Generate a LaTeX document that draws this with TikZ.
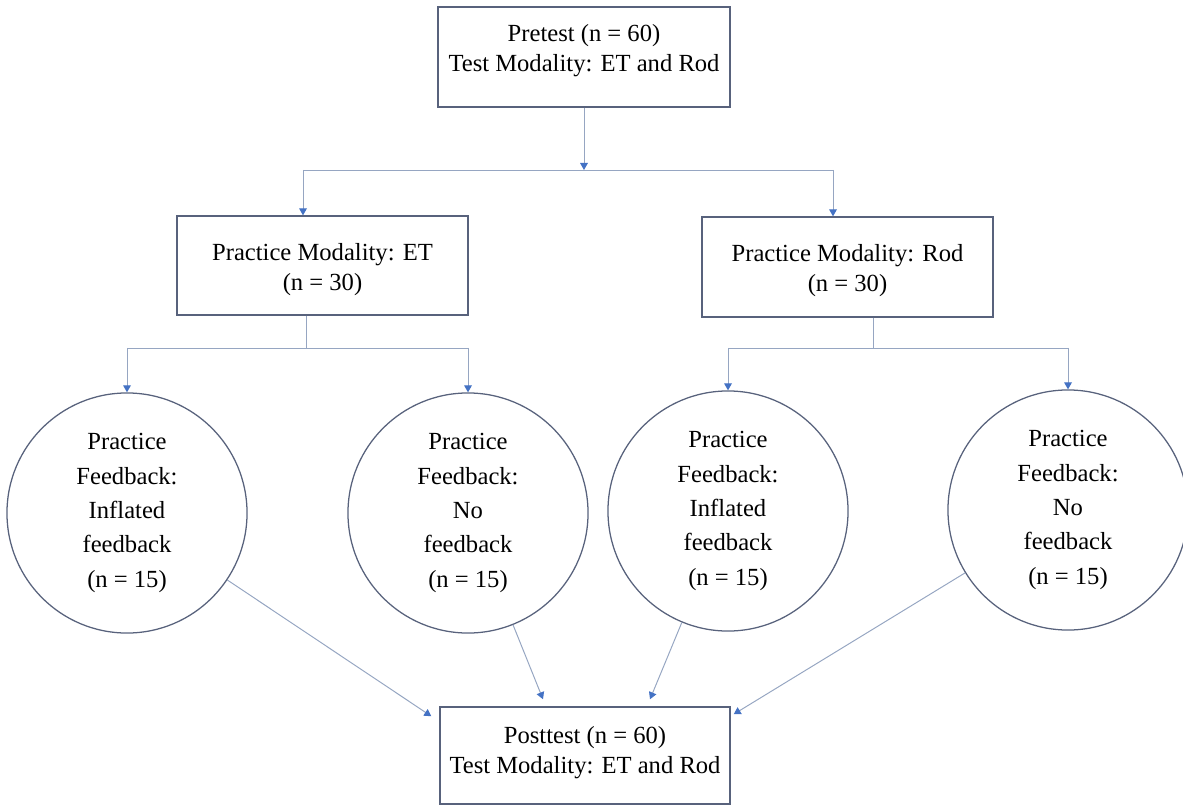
\documentclass[tikz,border=0pt]{standalone}
\usepackage{fontspec}
\setmainfont{Liberation Serif}
\usetikzlibrary{positioning}
\usetikzlibrary{calc}
\usetikzlibrary{arrows.meta}

\definecolor{boxline}{RGB}{88,98,124}
\definecolor{linkline}{RGB}{150,166,194}
\definecolor{tipblue}{RGB}{68,114,196}

\begin{document}
\begin{tikzpicture}[x=0.025cm, y=-0.025cm]
    \useasboundingbox (0, 0) rectangle (1183, 806);
    \tikzstyle{box} = [draw=boxline, line width=0.9pt, rectangle, align=center, font=\fontsize{17.5}{21.3}\selectfont]
    \tikzstyle{round} = [draw=boxline, line width=0.9pt, circle, minimum size=6cm, inner sep=0pt, align=center, font=\fontsize{17.5}{24.5}\selectfont]
    \tikzstyle{link} = [draw=linkline, line width=0.7pt]
    \tikzstyle{linkarrow} = [link, -{Triangle[length=5pt, width=5.5pt, color=tipblue]}]

    % test boxes at top and bottom (text sits a bit high in them)
    \node[box, minimum width=7.3cm, minimum height=2.5cm, text depth=13pt] (Pre) at (584, 57) {Pretest (n = 60)\\Test Modality: ET and Rod};
    \node[box, minimum width=7.25cm, minimum height=2.43cm, text depth=8.5pt] (Post) at (585, 755.5) {Posttest (n = 60)\\Test Modality: ET and Rod};

    % practice modality boxes (text sits a bit low)
    \node[box, minimum width=7.275cm, minimum height=2.475cm, text height=39pt] (ET) at (322.5, 265.5) {Practice Modality: ET\\(n = 30)};
    \node[box, minimum width=7.275cm, minimum height=2.5cm, text height=39pt] (Rod) at (847.5, 267) {Practice Modality: Rod\\(n = 30)};

    % practice feedback circles
    \node[round] (C1) at (127, 513) {Practice\\Feedback:\\Inflated\\feedback\\(n = 15)};
    \node[round] (C2) at (468, 513) {Practice\\Feedback:\\No\\feedback\\(n = 15)};
    \node[round] (C3) at (728, 511) {Practice\\Feedback:\\Inflated\\feedback\\(n = 15)};
    \node[round] (C4) at (1068, 510) {Practice\\Feedback:\\No\\feedback\\(n = 15)};

    % split below the pretest
    \coordinate (TopM) at (584, 170);
    \coordinate (TopL) at (303, 170);
    \coordinate (TopR) at (833, 170);
    \draw[linkarrow] (Pre.south) -- (TopM);
    \draw[link] (TopL) -- (TopR);
    \draw[linkarrow] (TopL) -- (ET.north -| TopL);
    \draw[linkarrow] (TopR) -- (Rod.north -| TopR);

    % split below each modality box
    \coordinate (EtM) at (306, 348);
    \coordinate (EtL) at (127, 348);
    \coordinate (EtR) at (468, 348);
    \draw[link] (ET.south -| EtM) -- (EtM);
    \draw[link] (EtL) -- (EtR);
    \draw[linkarrow] (EtL) -- (C1.north);
    \draw[linkarrow] (EtR) -- (C2.north);

    \coordinate (RodM) at (873, 348);
    \coordinate (RodL) at (728, 348);
    \coordinate (RodR) at (1068, 348);
    \draw[link] (Rod.south -| RodM) -- (RodM);
    \draw[link] (RodL) -- (RodR);
    \draw[linkarrow] (RodL) -- (C3.north);
    \draw[linkarrow] (RodR) -- (C4.north);

    % all circles into the posttest
    \coordinate (In1) at ($(Post.north west) + (-8, 10)$);
    \coordinate (In2) at ($(Post.north) + (-42, -7)$);
    \coordinate (In3) at ($(Post.north) + (65, -7)$);
    \coordinate (In4) at ($(Post.north east) + (3, 8)$);
    \foreach \i in {1, 2, 3, 4} {
        \draw[linkarrow] (C\i) -- (In\i);
    }
\end{tikzpicture}
\end{document}
